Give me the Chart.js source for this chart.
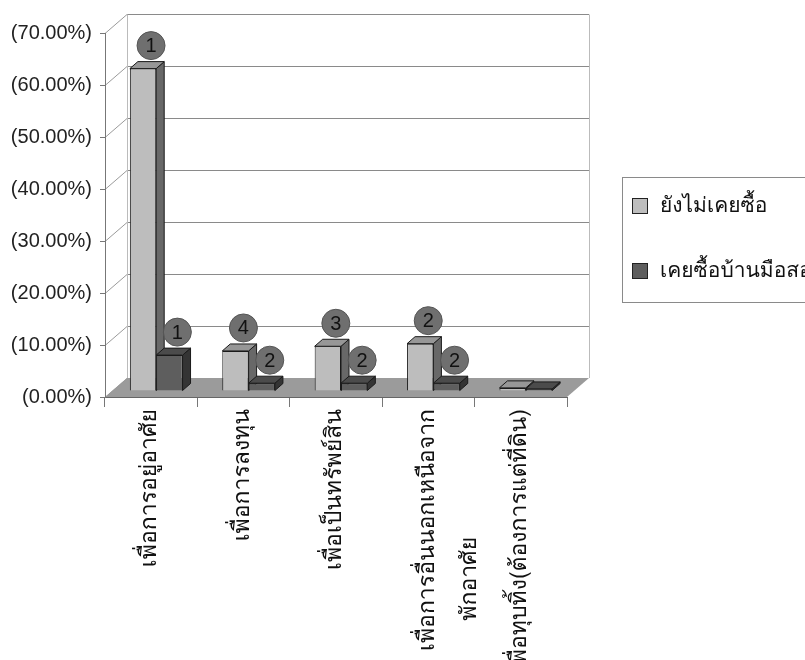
<!DOCTYPE html>
<html>
<head>
<meta charset="utf-8">
<script src="https://cdn.jsdelivr.net/npm/chart.js@4.4.1/dist/chart.umd.min.js"></script>
<style>
  html, body { margin: 0; padding: 0; background: #fff; }
</style>
</head>
<body>
<canvas id="chart" width="805" height="660"></canvas>
<script>
// categories (x axis)
const categories = [
  "เพื่อการอยู่อาศัย",
  "เพื่อการลงทุน",
  "เพื่อเป็นทรัพย์สิน",
  ["เพื่อการอื่นนอกเหนือจาก", "พักอาศัย" + "\u00a0".repeat(20)],
  "เพื่อทุบทิ้ง(ต้องการแต่ที่ดิน)"
];
const seriesNames = ["ยังไม่เคยซื้อ", "เคยซื้อบ้านมือสอง"];
// percent values
const neverBought = [62.0, 7.7, 8.6, 9.1, 0.6];
const boughtUsed = [6.9, 1.5, 1.5, 1.5, 0.4];
// numbers in the round markers above the bars
const neverBoughtRank = ["1", "4", "3", "2", ""];
const boughtUsedRank = ["1", "2", "2", "2", ""];
const yMin = 0, yMax = 70, yStep = 10;

const thaiFont = "Loma, Garuda, Norasi, 'Tlwg Typo', 'Noto Sans Thai', 'Noto Sans', 'DejaVu Sans', sans-serif";
const numFont = "'Liberation Sans', Arial, sans-serif";

const lightFill = "#bdbdbd";
const darkFill = "#5e5e5e";

// 3D settings
const wallDx = 22, wallDy = -19;   // back wall offset
const barShiftX = 5, barShiftY = -6; // plane of the bar fronts
const barDx = 8, barDy = -7;         // bar depth

function shade(hex, f) {
  const n = parseInt(hex.slice(1), 16);
  const r = Math.round(((n >> 16) & 255) * f);
  const g = Math.round(((n >> 8) & 255) * f);
  const b = Math.round((n & 255) * f);
  return `rgb(${r},${g},${b})`;
}

/** back walls, side wall lines and the floor */
const wallsPlugin = {
  id: "walls",
  beforeDraw(chart) {
    const { ctx, chartArea: a, scales } = chart;
    const y = scales.y;
    ctx.save();
    ctx.lineWidth = 1;
    // floor
    const y0 = y.getPixelForValue(0);
    ctx.fillStyle = "#9b9b9b";
    ctx.beginPath();
    ctx.moveTo(a.left, y0);
    ctx.lineTo(a.right, y0);
    ctx.lineTo(a.right + wallDx, y0 + wallDy);
    ctx.lineTo(a.left + wallDx, y0 + wallDy);
    ctx.closePath();
    ctx.fill();
    // grid lines on side wall and back wall
    for (let v = yMin; v <= yMax; v += yStep) {
      const py = Math.round(y.getPixelForValue(v)) + 0.5;
      ctx.strokeStyle = "#9a9a9a";
      ctx.beginPath();
      ctx.moveTo(a.left, py);
      ctx.lineTo(a.left + wallDx, py + wallDy);
      ctx.stroke();
      if (v > 0) {
        ctx.strokeStyle = "#8a8a8a";
        ctx.beginPath();
        ctx.moveTo(a.left + wallDx, py + wallDy);
        ctx.lineTo(a.right + wallDx, py + wallDy);
        ctx.stroke();
      }
    }
    // wall edges
    const top = Math.round(y.getPixelForValue(yMax)) + 0.5;
    ctx.strokeStyle = "#bbbbbb";
    ctx.beginPath();
    ctx.moveTo(a.left + wallDx + 0.5, top + wallDy);
    ctx.lineTo(a.left + wallDx + 0.5, y0 + wallDy);
    ctx.moveTo(a.right + wallDx + 0.5, top + wallDy);
    ctx.lineTo(a.right + wallDx + 0.5, y0 + wallDy);
    ctx.stroke();
    ctx.restore();
  },
  beforeDatasetsDraw(chart) {
    const { ctx } = chart;
    ctx.save();
    ctx.translate(barShiftX, barShiftY);
    // top and side faces, light series first so the dark fronts cover them
    chart.data.datasets.forEach((ds, i) => {
      const meta = chart.getDatasetMeta(i);
      meta.data.forEach((bar) => {
        const left = bar.x - bar.width / 2;
        const right = bar.x + bar.width / 2;
        const top = bar.y, base = bar.base;
        ctx.strokeStyle = "#1a1a1a";
        ctx.lineWidth = 1;
        // side
        ctx.fillStyle = shade(ds.backgroundColor, 0.55);
        ctx.beginPath();
        ctx.moveTo(right, top);
        ctx.lineTo(right + barDx, top + barDy);
        ctx.lineTo(right + barDx, base + barDy);
        ctx.lineTo(right, base);
        ctx.closePath();
        ctx.fill();
        ctx.stroke();
        // top
        ctx.fillStyle = shade(ds.backgroundColor, 0.8);
        ctx.beginPath();
        ctx.moveTo(left, top);
        ctx.lineTo(left + barDx, top + barDy);
        ctx.lineTo(right + barDx, top + barDy);
        ctx.lineTo(right, top);
        ctx.closePath();
        ctx.fill();
        ctx.stroke();
      });
    });
  },
  afterDatasetsDraw(chart) {
    const { ctx } = chart;
    const ranks = [neverBoughtRank, boughtUsedRank];
    chart.data.datasets.forEach((ds, i) => {
      const meta = chart.getDatasetMeta(i);
      meta.data.forEach((bar, j) => {
        const txt = ranks[i][j];
        if (!txt) return;
        const cx = bar.x + 8, cy = bar.y - 23;
        ctx.fillStyle = "#6f6f6f";
        ctx.strokeStyle = "#555";
        ctx.beginPath();
        ctx.arc(cx, cy, 14, 0, Math.PI * 2);
        ctx.fill();
        ctx.stroke();
        ctx.fillStyle = "#111";
        ctx.font = "20px " + numFont;
        ctx.textAlign = "center";
        ctx.textBaseline = "middle";
        ctx.fillText(txt, cx, cy + 1);
      });
    });
    ctx.restore();
  },
  afterDraw(chart) {
    // legend box
    const { ctx } = chart;
    ctx.save();
    ctx.strokeStyle = "#8a8a8a";
    ctx.lineWidth = 1;
    ctx.strokeRect(622.5, 177.5, 200, 125);
    const colors = [lightFill, darkFill];
    const rows = [206, 271];
    seriesNames.forEach((name, i) => {
      ctx.fillStyle = colors[i];
      ctx.fillRect(632, rows[i] - 8, 16, 16);
      ctx.strokeStyle = "#222";
      ctx.strokeRect(632.5, rows[i] - 7.5, 15, 15);
      ctx.fillStyle = "#111";
      ctx.font = "21px " + thaiFont;
      ctx.textAlign = "left";
      ctx.textBaseline = "middle";
      ctx.fillText(name, 660, rows[i] + 1);
    });
    ctx.restore();
  },
};

new Chart(document.getElementById("chart"), {
  type: "bar",
  data: {
    labels: categories,
    datasets: [
      {
        label: seriesNames[0],
        data: neverBought,
        backgroundColor: lightFill,
        borderColor: "#1a1a1a",
        borderWidth: 1,
      },
      {
        label: seriesNames[1],
        data: boughtUsed,
        backgroundColor: darkFill,
        borderColor: "#1a1a1a",
        borderWidth: 1,
      },
    ],
  },
  options: {
    responsive: false,
    animation: false,
    events: [],
    layout: { padding: { top: 33, right: 238, left: 0, bottom: 0 } },
    datasets: { bar: { barPercentage: 1, categoryPercentage: 0.57 } },
    plugins: { legend: { display: false }, tooltip: { enabled: false } },
    scales: {
      x: {
        grid: { drawOnChartArea: false, tickLength: 10, color: "#777", offset: true },
        border: { color: "#666" },
        ticks: {
          minRotation: 90,
          maxRotation: 90,
          autoSkip: false,
          padding: 2,
          color: "#111",
          font: { family: thaiFont, size: 23, lineHeight: 1.85 },
        },
        afterFit: (scale) => { scale.height = 263; },
      },
      y: {
        min: yMin,
        max: yMax,
        grid: { drawOnChartArea: false, tickLength: 5, color: "#777" },
        border: { color: "#777" },
        ticks: {
          stepSize: yStep,
          padding: 8,
          color: "#222",
          font: { family: numFont, size: 20 },
          callback: (v) => `(${Number(v).toFixed(2)}%)`,
        },
        afterFit: (scale) => { scale.width = 105; },
      },
    },
  },
  plugins: [wallsPlugin],
});
</script>
</body>
</html>
